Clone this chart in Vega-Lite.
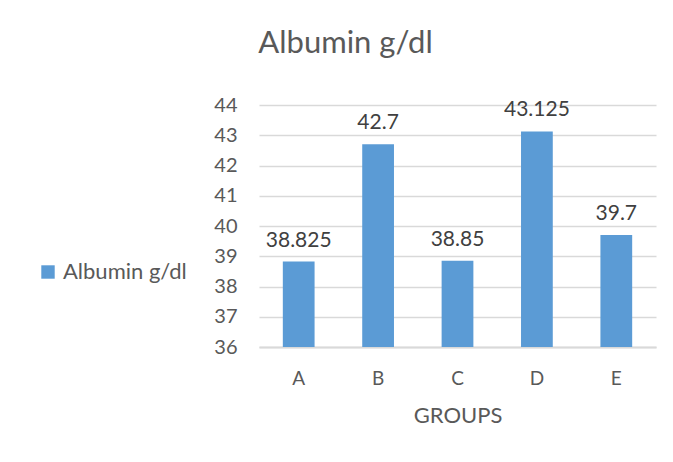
{
  "$schema": "https://vega.github.io/schema/vega-lite/v6.json",
  "autosize": {"type": "none"},
  "width": 397,
  "height": 242,
  "padding": {"left": 259, "top": 105, "right": 17, "bottom": 115},
  "background": "white",
  "title": {
    "text": "Albumin g/dl",
    "anchor": "middle",
    "frame": "group",
    "dx": -112,
    "offset": 35,
    "font": "Lato",
    "fontSize": 31,
    "fontWeight": "normal",
    "color": "#595959"
  },
  "data": {
    "values": [
      {"group": "A", "value": 38.825, "series": "Albumin g/dl"},
      {"group": "B", "value": 42.7, "series": "Albumin g/dl"},
      {"group": "C", "value": 38.85, "series": "Albumin g/dl"},
      {"group": "D", "value": 43.125, "series": "Albumin g/dl"},
      {"group": "E", "value": 39.7, "series": "Albumin g/dl"}
    ]
  },
  "encoding": {
    "x": {
      "field": "group",
      "type": "nominal",
      "title": "GROUPS",
      "scale": {"paddingInner": 0.6, "paddingOuter": 0.3},
      "axis": {
        "labelAngle": 0,
        "labelFont": "Lato",
        "labelFontSize": 19,
        "labelColor": "#595959",
        "labelPadding": 22,
        "ticks": false,
        "domainColor": "#d9d9d9",
        "domainWidth": 2,
        "titleFont": "Lato",
        "titleFontSize": 22,
        "titleFontWeight": "normal",
        "titleColor": "#595959",
        "titlePadding": 17
      }
    },
    "y": {
      "field": "value",
      "type": "quantitative",
      "scale": {"domain": [36, 44], "zero": false, "nice": false},
      "axis": {
        "title": null,
        "values": [36, 37, 38, 39, 40, 41, 42, 43, 44],
        "labelFont": "Lato",
        "labelFontSize": 20,
        "labelColor": "#595959",
        "labelPadding": 22,
        "ticks": false,
        "domain": false,
        "gridColor": "#d9d9d9",
        "gridWidth": 1.5
      }
    }
  },
  "layer": [
    {
      "mark": {"type": "bar", "color": "#5B9BD5", "clip": true},
      "encoding": {
        "color": {
          "field": "series",
          "type": "nominal",
          "scale": {"range": ["#5B9BD5"]},
          "legend": {
            "title": null,
            "orient": "none",
            "legendX": -222,
            "legendY": 156,
            "symbolType": "square",
            "symbolSize": 180,
            "symbolStrokeWidth": 0,
            "labelFont": "Lato",
            "labelFontSize": 22,
            "labelColor": "#595959",
            "labelOffset": 4
          }
        }
      }
    },
    {
      "mark": {
        "type": "text",
        "baseline": "bottom",
        "dy": -11,
        "font": "Lato",
        "fontSize": 21,
        "color": "#404040"
      },
      "encoding": {"text": {"field": "value", "type": "quantitative"}}
    }
  ],
  "config": {"view": {"stroke": null}}
}
